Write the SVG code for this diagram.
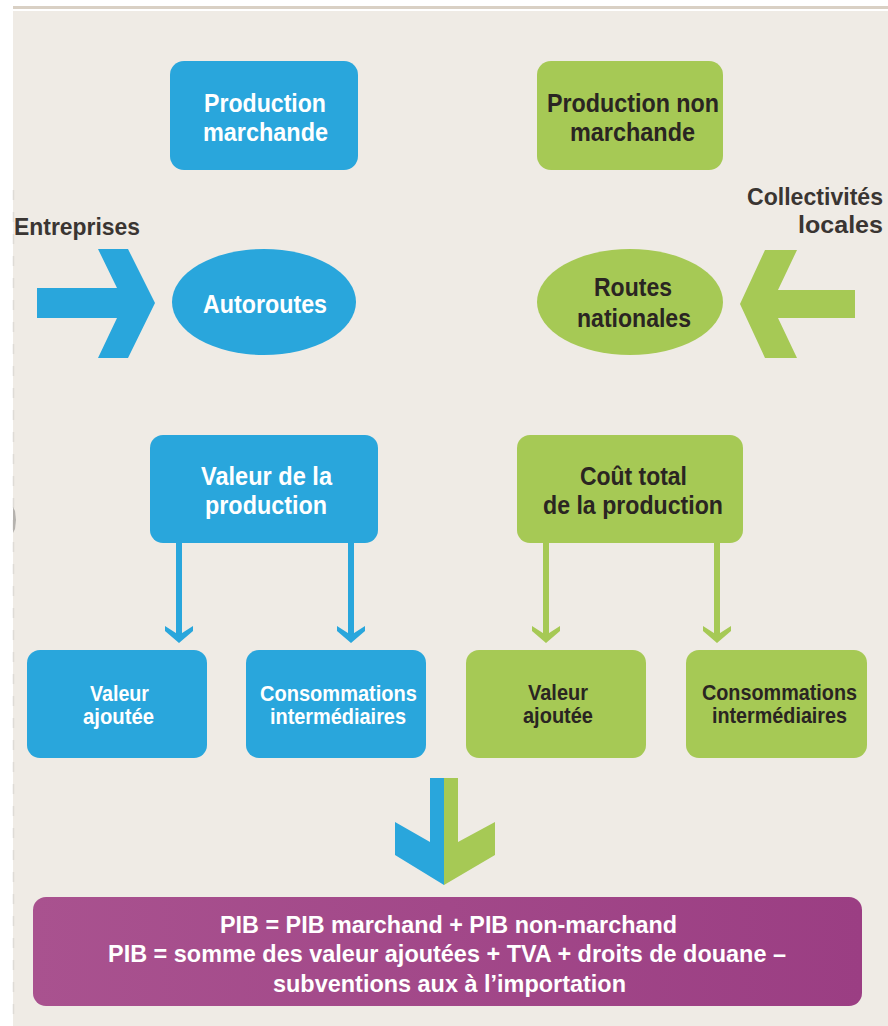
<svg xmlns="http://www.w3.org/2000/svg" width="888" height="1026" viewBox="0 0 888 1026">
<defs>
<linearGradient id="pg" x1="0" y1="0" x2="1" y2="0">
<stop offset="0" stop-color="#a9528f"/>
<stop offset="1" stop-color="#9b3e83"/>
</linearGradient>
<path id="headB" d="M-14,-17 L0,-8 L14,-17 L14,-12 L0,0 L-14,-12 Z"/>
</defs>
<style>
.blue{fill:#29a6dc}
.green{fill:#a6c955}
.t{font-family:"Liberation Sans",Arial,sans-serif;font-weight:bold}
.w{fill:#ffffff}
.d{fill:#2a2522}
.g{fill:#3a3532}
.lg{font-size:26px}
.sm{font-size:22px}
.sd{font-size:24px}
.pu{font-size:24px}
.sb{stroke:#29a6dc;stroke-width:6;fill:none}
.sg{stroke:#a6c955;stroke-width:6;fill:none}
</style>
<rect x="0" y="0" width="888" height="1026" fill="#ffffff"/>
<rect x="13" y="11" width="875" height="1015" fill="#efebe5"/>
<rect x="13" y="6" width="875" height="3" fill="#d9d0c4"/>
<line x1="13.5" y1="190" x2="13.5" y2="1026" stroke="#dedbd6" stroke-width="1.5" stroke-dasharray="10,12"/>
<path d="M13,507 L15,511 L16,520 L15,529 L13,533 Z" fill="#b5b2ae"/>

<g id="production-marchande">
<rect x="170" y="61" width="188" height="109" rx="14" class="blue"/>
<text x="204" y="112" class="t lg w" textLength="122" lengthAdjust="spacingAndGlyphs">Production</text>
<text x="203" y="141" class="t lg w" textLength="125" lengthAdjust="spacingAndGlyphs">marchande</text>
</g>
<g id="production-non-marchande">
<rect x="537" y="61" width="186" height="109" rx="14" class="green"/>
<text x="547" y="112" class="t lg d" textLength="172" lengthAdjust="spacingAndGlyphs">Production non</text>
<text x="570" y="141" class="t lg d" textLength="125" lengthAdjust="spacingAndGlyphs">marchande</text>
</g>

<g id="entreprises">
<text x="14" y="235" class="t sd g" textLength="126" lengthAdjust="spacingAndGlyphs">Entreprises</text>
</g>
<g id="collectivites">
<text x="747" y="205" class="t sd g" textLength="136" lengthAdjust="spacingAndGlyphs">Collectivités</text>
<text x="798" y="233" class="t sd g" textLength="85" lengthAdjust="spacingAndGlyphs">locales</text>
</g>

<g id="autoroutes">
<ellipse cx="264" cy="302" rx="92" ry="53" class="blue"/>
<text x="203" y="313" class="t lg w" textLength="124" lengthAdjust="spacingAndGlyphs">Autoroutes</text>
</g>
<g id="routes-nationales">
<ellipse cx="630" cy="302" rx="93" ry="53" class="green"/>
<text x="594" y="296" class="t lg d" textLength="78" lengthAdjust="spacingAndGlyphs">Routes</text>
<text x="577" y="327" class="t lg d" textLength="114" lengthAdjust="spacingAndGlyphs">nationales</text>
</g>

<g id="valeur-production">
<rect x="150" y="435" width="228" height="108" rx="13" class="blue"/>
<text x="201" y="485" class="t lg w" textLength="131" lengthAdjust="spacingAndGlyphs">Valeur de la</text>
<text x="205" y="514" class="t lg w" textLength="122" lengthAdjust="spacingAndGlyphs">production</text>
</g>
<g id="cout-total">
<rect x="517" y="435" width="226" height="108" rx="13" class="green"/>
<text x="580" y="485" class="t lg d" textLength="107" lengthAdjust="spacingAndGlyphs">Coût total</text>
<text x="543" y="514" class="t lg d" textLength="180" lengthAdjust="spacingAndGlyphs">de la production</text>
</g>

<g id="va-marchande">
<rect x="27" y="650" width="180" height="108" rx="13" class="blue"/>
<text x="90" y="701" class="t sm w" textLength="59" lengthAdjust="spacingAndGlyphs">Valeur</text>
<text x="83" y="724" class="t sm w" textLength="71" lengthAdjust="spacingAndGlyphs">ajoutée</text>
</g>
<g id="ci-marchande">
<rect x="246" y="650" width="180" height="108" rx="13" class="blue"/>
<text x="260" y="701" class="t sm w" textLength="157" lengthAdjust="spacingAndGlyphs">Consommations</text>
<text x="270" y="724" class="t sm w" textLength="136" lengthAdjust="spacingAndGlyphs">intermédiaires</text>
</g>
<g id="va-non-marchande">
<rect x="466" y="650" width="180" height="108" rx="13" class="green"/>
<text x="528" y="700" class="t sm d" textLength="60" lengthAdjust="spacingAndGlyphs">Valeur</text>
<text x="523" y="723" class="t sm d" textLength="70" lengthAdjust="spacingAndGlyphs">ajoutée</text>
</g>
<g id="ci-non-marchande">
<rect x="686" y="650" width="181" height="108" rx="13" class="green"/>
<text x="702" y="700" class="t sm d" textLength="155" lengthAdjust="spacingAndGlyphs">Consommations</text>
<text x="712" y="723" class="t sm d" textLength="135" lengthAdjust="spacingAndGlyphs">intermédiaires</text>
</g>

<g id="pib">
<rect x="33" y="897" width="829" height="109" rx="13" fill="url(#pg)"/>
<text x="220" y="933" class="t pu w" textLength="457" lengthAdjust="spacingAndGlyphs">PIB = PIB marchand + PIB non-marchand</text>
<text x="108" y="962" class="t pu w" textLength="678" lengthAdjust="spacingAndGlyphs">PIB = somme des valeur ajoutées + TVA + droits de douane –</text>
<text x="273" y="992" class="t pu w" textLength="353" lengthAdjust="spacingAndGlyphs">subventions aux à l’importation</text>
</g>

<g id="connectors">
<polygon class="blue" points="37,288 117,288 98,249 128,249 155,303 128,358 98,358 117,318 37,318"/>
<polygon class="green" points="855,290 778,290 797,250 765,250 740,304 765,358 797,358 778,318 855,318"/>
<line x1="179" y1="543" x2="179" y2="637" class="sb"/>
<line x1="351" y1="543" x2="351" y2="637" class="sb"/>
<use href="#headB" x="179" y="643" class="blue"/>
<use href="#headB" x="351" y="643" class="blue"/>
<line x1="546" y1="543" x2="546" y2="637" class="sg"/>
<line x1="717" y1="543" x2="717" y2="637" class="sg"/>
<use href="#headB" x="546" y="643" class="green"/>
<use href="#headB" x="717" y="643" class="green"/>
<polygon class="blue" points="430,778 444,778 444,885 395,855 395,822 430,842"/>
<polygon class="green" points="444,778 458,778 458,842 495,822 495,855 444,885"/>
</g>
</svg>
